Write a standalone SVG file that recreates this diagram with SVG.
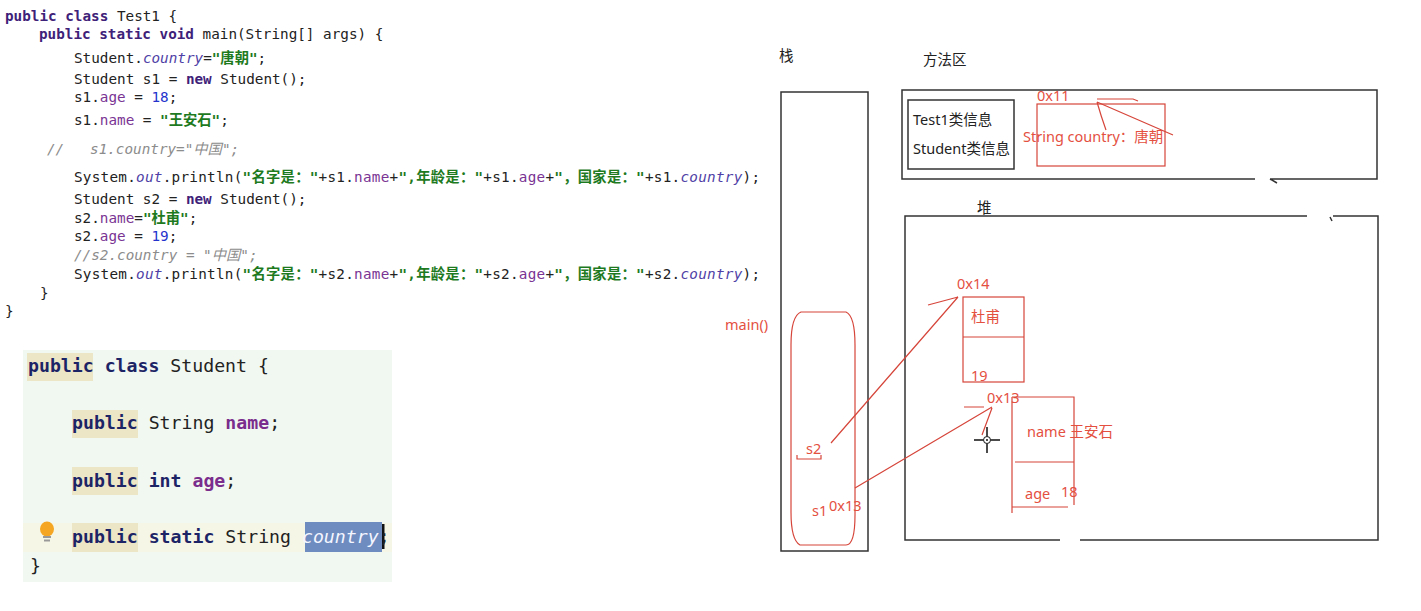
<svg xmlns="http://www.w3.org/2000/svg" width="1421" height="611" viewBox="0 0 1421 611">
<style>
.code{font-family:"DejaVu Sans Mono","Liberation Mono","Noto Sans CJK SC",monospace;font-size:14.3px;fill:#222;white-space:pre}
.code2{font-family:"DejaVu Sans Mono","Liberation Mono","Noto Sans CJK SC",monospace;font-size:18.2px;fill:#222;white-space:pre}
.k{font-weight:bold;fill:#3e2178}
.k2{font-weight:bold;fill:#1c2466}
.f{fill:#7a3594}
.f2{fill:#7a2d8c;font-weight:bold}
.fi{fill:#4f3fa6;font-style:italic}
.s{fill:#1e7a1e;font-weight:bold}
.n{fill:#2433cc}
.c{fill:#8c8c8c;font-style:italic}
.lbl{font-family:"Noto Sans","Noto Sans CJK SC",sans-serif;font-size:14.5px;fill:#222}
.red{font-family:"Noto Sans","Noto Sans CJK SC",sans-serif;font-size:14.5px;fill:#e4503f}
.blk{fill:none;stroke:#333;stroke-width:1.5}
.rl{fill:none;stroke:#d6453a;stroke-width:1.2}
.hl{fill:#ece6c6}
</style>

<g id="code-test1" xml:space="preserve">
<text class="code" x="5" y="21"><tspan class="k">public</tspan> <tspan class="k">class</tspan> Test1 {</text>
<text class="code" x="39" y="39"><tspan class="k">public</tspan> <tspan class="k">static</tspan> <tspan class="k">void</tspan> main(String[] args) {</text>
<text class="code" x="74" y="63">Student.<tspan class="fi">country</tspan>=<tspan class="s">"唐朝"</tspan>;</text>
<text class="code" x="74" y="84">Student s1 = <tspan class="k">new</tspan> Student();</text>
<text class="code" x="74" y="102">s1.<tspan class="f">age</tspan> = <tspan class="n">18</tspan>;</text>
<text class="code" x="74" y="125">s1.<tspan class="f">name</tspan> = <tspan class="s">"王安石"</tspan>;</text>
<text class="code c" x="47" y="154">//   s1.country="中国";</text>
<text class="code" x="74" y="182" textLength="686" lengthAdjust="spacing">System.<tspan class="fi">out</tspan>.println(<tspan class="s">"名字是："</tspan>+s1.<tspan class="f">name</tspan>+<tspan class="s">",年龄是："</tspan>+s1.<tspan class="f">age</tspan>+<tspan class="s">"，国家是："</tspan>+s1.<tspan class="fi">country</tspan>);</text>
<text class="code" x="74" y="204">Student s2 = <tspan class="k">new</tspan> Student();</text>
<text class="code" x="74" y="223">s2.<tspan class="f">name</tspan>=<tspan class="s">"杜甫"</tspan>;</text>
<text class="code" x="74" y="241">s2.<tspan class="f">age</tspan> = <tspan class="n">19</tspan>;</text>
<text class="code c" x="74" y="260">//s2.country = "中国";</text>
<text class="code" x="74" y="279" textLength="686" lengthAdjust="spacing">System.<tspan class="fi">out</tspan>.println(<tspan class="s">"名字是："</tspan>+s2.<tspan class="f">name</tspan>+<tspan class="s">",年龄是："</tspan>+s2.<tspan class="f">age</tspan>+<tspan class="s">"，国家是："</tspan>+s2.<tspan class="fi">country</tspan>);</text>
<text class="code" x="40" y="298">}</text>
<text class="code" x="5" y="316">}</text>
</g>

<g id="code-student" xml:space="preserve">
<rect x="23" y="350" width="369" height="232" fill="#f1f7f1"/>
<rect x="23" y="523" width="369" height="29" fill="#f6f6e6"/>
<rect class="hl" x="27" y="353" width="66" height="28"/>
<rect class="hl" x="72" y="410" width="66" height="28"/>
<rect class="hl" x="72" y="467" width="66" height="28"/>
<rect class="hl" x="72" y="523" width="66" height="29"/>
<rect x="305" y="522" width="77" height="30" fill="#6f8cc0"/>
<rect x="382" y="524" width="2.5" height="25" fill="#111"/>
<ellipse cx="47" cy="529" rx="7" ry="7.5" fill="#f5a623"/>
<rect x="43" y="536" width="8" height="2" fill="#999"/>
<rect x="44" y="539.5" width="6" height="2" fill="#999"/>
<text class="code2" x="28" y="372"><tspan class="k2">public</tspan> <tspan class="k2">class</tspan> Student {</text>
<text class="code2" x="72" y="429"><tspan class="k2">public</tspan> String <tspan class="f2">name</tspan>;</text>
<text class="code2" x="72" y="487"><tspan class="k2">public</tspan> <tspan class="k2">int</tspan> <tspan class="f2">age</tspan>;</text>
<text class="code2" x="72" y="543"><tspan class="k2">public</tspan> <tspan class="k2">static</tspan> String <tspan fill="#f4f6ff" font-style="italic">country</tspan>;</text>
<text class="code2" x="30" y="572">}</text>
</g>

<g id="stack">
<text class="lbl" x="779" y="61">栈</text>
<rect class="blk" x="781" y="92" width="87" height="459"/>
</g>

<g id="method-area">
<text class="lbl" x="923" y="65">方法区</text>
<path class="blk" d="M1255 179 L902 179 L902 90 L1377 90 L1377 179 L1270 179 M1270 179 L1277 183"/>
<rect class="blk" x="908" y="100" width="106" height="69"/>
<text class="lbl" x="913" y="125">Test1类信息</text>
<text class="lbl" x="913" y="154">Student类信息</text>
</g>

<g id="static-country">
<rect class="rl" x="1037" y="104" width="128" height="62"/>
<text class="red" x="1037" y="101">0x11</text>
<text class="red" x="1023" y="142" font-size="15.5">String country：唐朝</text>
</g>

<g id="heap">
<text class="lbl" x="977" y="213">堆</text>
<path class="blk" d="M1307 216 L905 216 L905 540 L1060 540 M1080 540 L1378 540 L1378 216 L1333 216 M1330 217 L1332 221"/>
</g>

<g id="main-frame">
<text class="red" x="725" y="330">main()</text>
<path class="rl" d="M801 312 L846 312 Q855 316 855 345 L855 515 Q855 545 846 545 L800 545 Q791 540 791 512 L791 345 Q791 316 801 312 Z"/>
<text class="red" x="806" y="454">s2</text>
<path class="rl" d="M797 455 L797 459 L821 459 L821 455"/>
<text class="red" x="812" y="516">s1</text>
<text class="red" x="829" y="511">0x13</text>
</g>

<g id="obj-dufu">
<text class="red" x="957" y="289">0x14</text>
<text class="red" x="971" y="322">杜甫</text>
<text class="red" x="971" y="381">19</text>
<rect class="rl" x="963" y="297" width="61" height="85"/>
<path class="rl" d="M963 337 L1024 337"/>
</g>

<g id="obj-wanganshi">
<text class="red" x="987" y="403">0x13</text>
<path class="rl" d="M1012 397 L1012 513 M1012 397 L1074 397 L1074 505 M1015 462 L1074 462 M1012 507 L1068 507"/>
<text class="red" x="1027" y="437">name 王安石</text>
<text class="red" x="1025" y="499">age</text>
<text class="red" x="1061" y="497">18</text>
</g>

<g id="connectors">
<path class="rl" d="M831 443 L958 297 M928 305 L958 297"/>
<path class="rl" d="M855 488 L992 407 M964 407 L984 407 M992 408 L982 435"/>
<path class="rl" d="M1097 99 L1133 99 L1138 101 M1097 102 L1173 135 M1097 102 Q1101 116 1106 130"/>
</g>

<g id="cursor">
<path d="M974 440 L983 440 M991 440 L1000 440 M987 427 L987 436 M987 444 L987 453" stroke="#111" stroke-width="1.5" fill="none"/>
<circle cx="987" cy="440" r="3.5" fill="#fff" stroke="#111" stroke-width="1"/>
<circle cx="987" cy="440" r="1" fill="#111"/>
</g>
</svg>
